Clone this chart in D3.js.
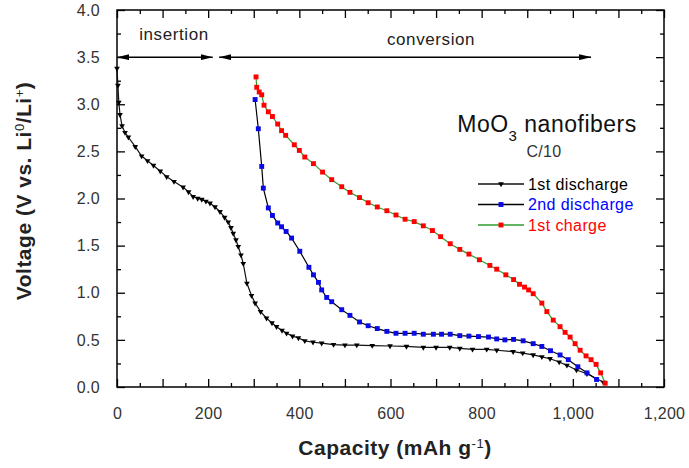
<!DOCTYPE html>
<html>
<head>
<meta charset="utf-8">
<script src="https://cdn.jsdelivr.net/npm/d3@7"></script>
<style>
  body { margin: 0; background: #fff; }
  text { font-family: "Liberation Sans", Arial, sans-serif; }
</style>
</head>
<body>
<div id="chart"></div>
<script>
// 1st discharge
let dis1Cap = [0, 2, 4, 6.6, 11, 17.6, 25, 40, 54, 67, 80, 95, 109, 125, 145, 157, 167, 177, 186, 195, 204, 215, 226, 236, 244, 250, 255, 261, 266, 272, 277, 285, 295, 303, 315, 328, 340, 350, 362, 372, 385, 398, 412, 430, 449, 475, 500, 526, 560, 599, 635, 672, 700, 730, 752, 780, 811, 833, 869, 890, 913, 932, 950, 970, 987, 1008, 1031, 1052, 1067];
let dis1Volt = [3.38, 3.2, 3.02, 2.89, 2.77, 2.70, 2.65, 2.55, 2.45, 2.40, 2.35, 2.29, 2.23, 2.18, 2.12, 2.07, 2.02, 2.00, 1.99, 1.97, 1.95, 1.91, 1.86, 1.80, 1.75, 1.69, 1.63, 1.56, 1.49, 1.40, 1.31, 1.10, 0.97, 0.89, 0.80, 0.73, 0.68, 0.64, 0.60, 0.57, 0.54, 0.52, 0.49, 0.475, 0.465, 0.45, 0.445, 0.445, 0.44, 0.435, 0.43, 0.42, 0.42, 0.42, 0.41, 0.40, 0.40, 0.39, 0.375, 0.36, 0.34, 0.32, 0.30, 0.265, 0.23, 0.18, 0.14, 0.09, 0.05];

// 2nd discharge
let dis2Cap = [303, 310, 317.5, 321, 332, 341, 352.5, 361, 371, 383, 401, 421, 431, 442, 449, 460, 471, 493, 511, 532, 551, 571, 592, 612, 632, 652, 672, 694, 712, 731, 752, 772, 793, 815, 833, 851, 870, 891, 913, 932, 951, 972, 990, 1011, 1031, 1052];
let dis2Volt = [3.05, 2.74, 2.34, 2.11, 1.90, 1.82, 1.74, 1.70, 1.65, 1.58, 1.44, 1.27, 1.19, 1.11, 1.03, 0.95, 0.905, 0.82, 0.76, 0.69, 0.65, 0.62, 0.59, 0.57, 0.57, 0.57, 0.56, 0.56, 0.56, 0.56, 0.545, 0.54, 0.535, 0.53, 0.51, 0.50, 0.505, 0.49, 0.46, 0.43, 0.385, 0.34, 0.29, 0.215, 0.15, 0.08];

// 1st charge
let chgCap = [305, 306.5, 312, 317.5, 322.5, 332, 341, 352.5, 361, 370, 389, 400, 412, 431, 451, 471, 493, 511, 532, 551, 571, 592, 612, 632, 652, 672, 692, 710, 731, 752, 772, 795, 818, 833, 853, 870, 883, 894, 903, 913, 932, 943, 957, 972, 983, 994, 1005, 1016, 1029, 1040, 1051, 1061, 1071];
let chgVolt = [3.29, 3.18, 3.13, 3.10, 2.99, 2.92, 2.87, 2.79, 2.72, 2.67, 2.57, 2.51, 2.44, 2.37, 2.28, 2.20, 2.125, 2.065, 2.01, 1.955, 1.91, 1.87, 1.825, 1.78, 1.755, 1.71, 1.66, 1.595, 1.52, 1.46, 1.41, 1.35, 1.29, 1.25, 1.19, 1.14, 1.09, 1.06, 1.03, 0.99, 0.89, 0.80, 0.71, 0.64, 0.58, 0.53, 0.46, 0.39, 0.33, 0.29, 0.24, 0.15, 0.04];

let xTickLabels = [0, 200, 400, 600, 800, 1000, 1200];
let yTickLabels = [0, 0.5, 1, 1.5, 2, 2.5, 3, 3.5, 4];
let legendNames = ["1st discharge", "2nd discharge", "1st charge"];
// regions: [start, end] capacity at V = 3.5
let regionNames = ["insertion", "conversion"];
let regionStart = [0, 224];
let regionEnd = [210, 1040];
let regionLabelX = [125, 689];
let regionLabelY = [3.74, 3.69];

let margin = {top: 10, right: 25, bottom: 81, left: 117},
    width = 689 - margin.left - margin.right,
    height = 468 - margin.top - margin.bottom;

let svg = d3.select("#chart")
    .append("svg")
    .attr("width", 689)
    .attr("height", 468)
    .append("g")
    .attr("transform", "translate(" + margin.left + "," + margin.top + ")");

let x = d3.scaleLinear().domain([0, 1200]).range([0, width]);
let y = d3.scaleLinear().domain([0, 4]).range([height, 0]);

let major = d3.range(0, 1201, 100), minor = d3.range(50, 1200, 100);
let yMajor = d3.range(0, 4.01, 0.5), yMinor = d3.range(0.25, 4, 0.5);
let fmtX = d3.format(",");

function styleAxis(g) {
    g.select(".domain").remove();
    g.selectAll("line").attr("stroke", "#000").attr("stroke-width", 1.3);
    g.selectAll("text").style("font-size", "16px").style("letter-spacing", "0.3px").attr("fill", "#333");
}

// bottom
svg.append("g").attr("transform", "translate(0," + height + ")")
    .call(d3.axisBottom(x).tickValues(major).tickSize(-8).tickPadding(21)
        .tickFormat(function(d) { return xTickLabels.indexOf(d) >= 0 ? fmtX(d) : ""; }))
    .call(styleAxis);
svg.append("g").attr("transform", "translate(0," + height + ")")
    .call(d3.axisBottom(x).tickValues(minor).tickSize(-4).tickFormat(""))
    .call(styleAxis);
// top
svg.append("g").call(d3.axisTop(x).tickValues(major).tickSize(-8).tickFormat("")).call(styleAxis);
svg.append("g").call(d3.axisTop(x).tickValues(minor).tickSize(-4).tickFormat("")).call(styleAxis);
// left
svg.append("g")
    .call(d3.axisLeft(y).tickValues(yMajor).tickSize(-8).tickPadding(17)
        .tickFormat(function(d) { return yTickLabels.indexOf(d) >= 0 ? d3.format(".1f")(d) : ""; }))
    .call(styleAxis);
svg.append("g").call(d3.axisLeft(y).tickValues(yMinor).tickSize(-4).tickFormat("")).call(styleAxis);
// right
svg.append("g").attr("transform", "translate(" + width + ",0)")
    .call(d3.axisRight(y).tickValues(yMajor).tickSize(-8).tickFormat("")).call(styleAxis);
svg.append("g").attr("transform", "translate(" + width + ",0)")
    .call(d3.axisRight(y).tickValues(yMinor).tickSize(-4).tickFormat("")).call(styleAxis);

// frame
svg.append("rect")
    .attr("width", width).attr("height", height)
    .attr("fill", "none").attr("stroke", "#000").attr("stroke-width", 1.5);

// axis titles
let xt = svg.append("text")
    .attr("x", 395 - margin.left).attr("y", height + 68)
    .attr("text-anchor", "middle")
    .style("font-size", "21px").style("font-weight", "bold").style("letter-spacing", "0.5px")
    .attr("fill", "#222");
xt.append("tspan").text("Capacity (mAh g");
xt.append("tspan").attr("baseline-shift", "super").style("font-size", "13px").style("font-weight", "normal").text("-1");
xt.append("tspan").text(")");

let yt = svg.append("text")
    .attr("transform", "translate(" + (-86) + "," + (191 - margin.top) + ") rotate(-90)")
    .attr("text-anchor", "middle")
    .style("font-size", "21px").style("font-weight", "bold").style("letter-spacing", "0.5px")
    .attr("fill", "#222");
yt.append("tspan").text("Voltage (V vs. Li");
yt.append("tspan").attr("baseline-shift", "super").style("font-size", "13px").style("font-weight", "normal").text("0");
yt.append("tspan").text("/Li");
yt.append("tspan").attr("baseline-shift", "super").style("font-size", "13px").style("font-weight", "normal").text("+");
yt.append("tspan").text(")");

// arrow markers
let defs = d3.select("svg").append("defs");
defs.append("marker").attr("id", "ah")
    .attr("viewBox", "0 0 12 6").attr("refX", 12).attr("refY", 3)
    .attr("markerWidth", 12).attr("markerHeight", 6)
    .attr("markerUnits", "userSpaceOnUse").attr("orient", "auto-start-reverse")
    .append("path").attr("d", "M0,0 L12,3 L0,6 Z").attr("fill", "#000");

regionNames.forEach(function(name, i) {
    svg.append("line")
        .attr("x1", x(regionStart[i])).attr("x2", x(regionEnd[i]))
        .attr("y1", y(3.5)).attr("y2", y(3.5))
        .attr("stroke", "#000").attr("stroke-width", 1.5)
        .attr("marker-start", "url(#ah)").attr("marker-end", "url(#ah)");
    svg.append("text")
        .attr("x", x(regionLabelX[i])).attr("y", y(regionLabelY[i]))
        .attr("dy", "0.35em").attr("text-anchor", "middle")
        .style("font-size", "17px").style("letter-spacing", "0.6px").attr("fill", "#222")
        .text(name);
});

// series
let series = [
    {cap: dis1Cap, volt: dis1Volt, line: "#111", fill: "#000", shape: "tri"},
    {cap: dis2Cap, volt: dis2Volt, line: "#000", fill: "#0a0ae6", shape: "sq"},
    {cap: chgCap, volt: chgVolt, line: "#2e9e2e", fill: "#ff0000", shape: "sq"}
];
let lineGen = d3.line().x(function(d) { return x(d[0]); }).y(function(d) { return y(d[1]); });
let tri = d3.symbol().type(d3.symbolTriangle).size(14);
let sq = d3.symbol().type(d3.symbolSquare).size(24);

function drawMarker(g, shape, fill, px, py) {
    g.append("path")
        .attr("d", shape === "tri" ? tri() : sq())
        .attr("transform", "translate(" + px + "," + py + ")" + (shape === "tri" ? " rotate(180)" : ""))
        .attr("fill", fill);
}

series.forEach(function(s) {
    let pts = s.cap.map(function(c, i) { return [c, s.volt[i]]; });
    svg.append("path").datum(pts)
        .attr("fill", "none").attr("stroke", s.line).attr("stroke-width", 1.2)
        .attr("d", lineGen);
    let g = svg.append("g");
    pts.forEach(function(p) { drawMarker(g, s.shape, s.fill, x(p[0]), y(p[1])); });
});

// title
let title = svg.append("text")
    .attr("x", 547 - margin.left).attr("y", 132 - margin.top)
    .attr("text-anchor", "middle")
    .style("font-size", "23px").style("letter-spacing", "0.5px").attr("fill", "#111");
title.append("tspan").text("MoO");
title.append("tspan").attr("baseline-shift", "sub").style("font-size", "15px").text("3");
title.append("tspan").text(" nanofibers");
svg.append("text")
    .attr("x", 544 - margin.left).attr("y", 157 - margin.top)
    .attr("text-anchor", "middle")
    .style("font-size", "16px").style("letter-spacing", "0.3px").attr("fill", "#333")
    .text("C/10");

// legend
let legendText = ["#000", "#0000ff", "#ff0000"];
legendNames.forEach(function(name, i) {
    let ly = 184 - margin.top + i * 20.5;
    let lx = 478 - margin.left;
    svg.append("line").attr("x1", lx).attr("x2", lx + 46)
        .attr("y1", ly).attr("y2", ly)
        .attr("stroke", series[i].line).attr("stroke-width", 1.3);
    drawMarker(svg, series[i].shape, series[i].fill, lx + 23, ly);
    svg.append("text").attr("x", lx + 50).attr("y", ly).attr("dy", "0.35em")
        .style("font-size", "16px").style("letter-spacing", "0.4px")
        .attr("fill", legendText[i]).text(name);
});
</script>
</body>
</html>
